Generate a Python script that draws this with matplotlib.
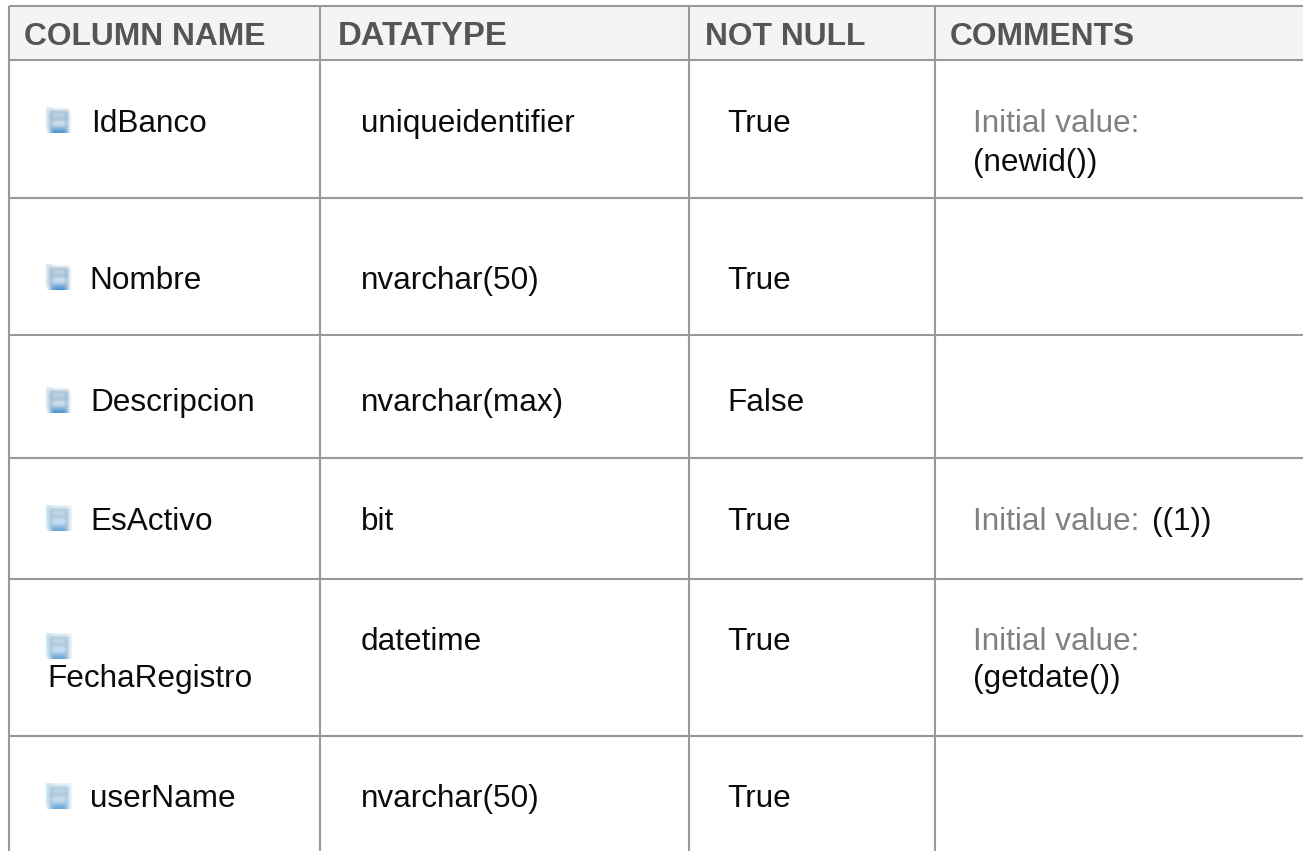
import matplotlib
matplotlib.use("Agg")
import matplotlib.pyplot as plt
import numpy as np
from matplotlib.patches import Rectangle

plt.rcParams['font.family'] = ['Liberation Sans', 'DejaVu Sans']

headers = ["COLUMN NAME", "DATATYPE", "NOT NULL", "COMMENTS"]
column_names = ["IdBanco", "Nombre", "Descripcion", "EsActivo", "FechaRegistro", "userName"]
datatypes = ["uniqueidentifier", "nvarchar(50)", "nvarchar(max)", "bit", "datetime", "nvarchar(50)"]
not_null = ["True", "True", "False", "True", "True", "True"]
comment_labels = ["Initial value:", "", "", "Initial value:", "Initial value:", ""]
comment_values = ["(newid())", "", "", "((1))", "(getdate())", ""]

W, H = 1303, 851
fig = plt.figure(figsize=(W / 100, H / 100), dpi=100)
ax = fig.add_axes([0, 0, 1, 1])

v_lines = [9, 320, 689, 935]
h_lines = [6, 60, 198, 335, 458, 579, 736]
line_c = '#999999'
line_w = 1.5
fs = 22.7
hfs = 22.9
text_c = '#0c0c0c'

ax.add_patch(Rectangle((9, 6), W - 9, 54, fc='#f4f4f4', ec='none', zorder=0))
ax.vlines(v_lines, 6, H, color=line_c, lw=line_w, zorder=2)
ax.hlines(h_lines, 9, W, color=line_c, lw=line_w, zorder=2)

header_x = [24, 338, 705, 950]
header_fs = [hfs, 23.7, hfs, hfs]
for x, t, s in zip(header_x, headers, header_fs):
    ax.text(x, 45, t, fontsize=s, fontweight='bold', color='#555555', va='baseline', ha='left')

W_ = (1.0, 1.0, 1.0)
L = (0.86, 0.93, 0.97)
G = (0.62, 0.72, 0.80)
P = (0.80, 0.88, 0.94)
B = (0.30, 0.58, 0.82)
M = (0.55, 0.72, 0.87)
icon_px = np.array([
    [L, L, W_, W_, W_, W_, W_, W_],
    [L, G, G, G, G, G, G, W_],
    [L, G, P, P, P, P, G, W_],
    [L, G, G, G, G, G, G, W_],
    [L, G, P, P, P, P, G, W_],
    [L, G, P, P, P, P, G, W_],
    [L, G, M, M, M, M, G, W_],
    [W_, M, B, B, B, B, M, W_],
])


def icon(x, y, fade=0.0):
    img = icon_px * (1 - fade) + fade * np.array([0.75, 0.87, 0.96])
    ax.imshow(img, extent=(x, x + 26, y + 26, y), interpolation='bicubic', zorder=1, aspect='auto')


baselines = [132, 289, 411, 530, 650, 807]
icon_y = [107, 264, 387, 505, 633, 783]
name_x = [91, 89, 90, 90, 47, 90]
second_line = [39, 0, 0, 0, 37, 0]
for i, name in enumerate(column_names):
    icon(46, icon_y[i], fade=0.25 if i >= 3 else 0.0)
    name_y = 687 if name == "FechaRegistro" else baselines[i]
    ax.text(name_x[i], name_y, name, fontsize=fs, color=text_c, va='baseline', ha='left')
    ax.text(361, baselines[i], datatypes[i], fontsize=fs, color=text_c, va='baseline', ha='left')
    ax.text(727, baselines[i], not_null[i], fontsize=fs, color=text_c, va='baseline', ha='left')
    if comment_labels[i]:
        ax.text(973, baselines[i], comment_labels[i], fontsize=fs, color='#808080', va='baseline', ha='left')
        if name == "EsActivo":
            ax.text(1152, baselines[i], comment_values[i], fontsize=fs, color=text_c, va='baseline', ha='left')
        else:
            ax.text(973, baselines[i] + second_line[i], comment_values[i], fontsize=fs, color=text_c, va='baseline', ha='left')

ax.set_xlim(0, W)
ax.set_ylim(H, 0)
ax.axis('off')
fig.savefig('out.png', dpi=100, facecolor='white')
